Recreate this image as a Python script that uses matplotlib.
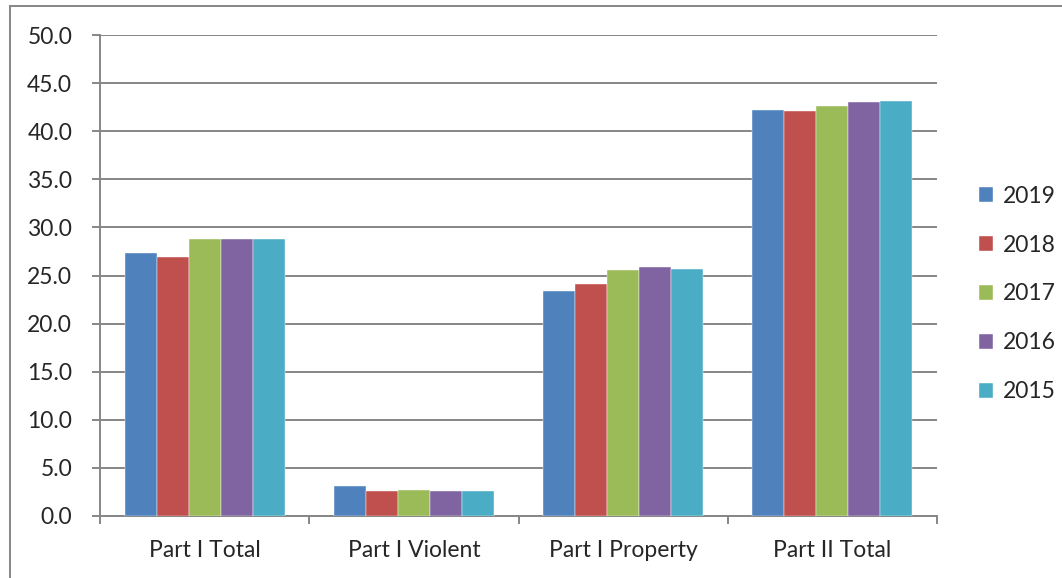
#!/usr/bin/env python3
"""Grouped bar chart of Part I / Part II rates, 2015-2019."""

import matplotlib

matplotlib.use("Agg")
import matplotlib.pyplot as plt
import numpy as np
from matplotlib.patches import Rectangle

categories = ["Part I Total", "Part I Violent", "Part I Property", "Part II Total"]
years = ["2019", "2018", "2017", "2016", "2015"]
values_2019 = [27.3, 3.1, 23.4, 42.2]
values_2018 = [26.9, 2.6, 24.1, 42.1]
values_2017 = [28.8, 2.7, 25.6, 42.6]
values_2016 = [28.8, 2.6, 25.9, 43.0]
values_2015 = [28.8, 2.6, 25.7, 43.1]
series = [values_2019, values_2018, values_2017, values_2016, values_2015]
colors = ["#4F81BD", "#C0504D", "#9BBB59", "#8064A2", "#4BACC6"]

GRID = "#868686"
TEXT = "#262626"
FS = 16.5
plt.rcParams["font.family"] = ["Lato", "DejaVu Sans"]

W, H = 1062, 578
fig = plt.figure(figsize=(W / 100, H / 100), dpi=100)

# outer chart frame (left and top edges visible)
fig.patches.append(Rectangle((10 / W, -0.05), 1.2, (H - 6) / H + 0.05,
                             transform=fig.transFigure, fill=False,
                             edgecolor=GRID, linewidth=1.4))

ax = fig.add_axes([100 / W, 1 - 516 / H, (937 - 100) / W, (516 - 35) / H])

x = np.arange(len(categories))
bar_w = 0.153
for i, (vals, col, yr) in enumerate(zip(series, colors, years)):
    offs = (i - 2) * bar_w
    ax.bar(x + offs, vals, width=bar_w, color=col, label=yr,
           edgecolor="white", linewidth=0.3, zorder=3)

ax.set_xlim(-0.5, len(categories) - 0.5)
ax.set_ylim(0, 50)
ax.set_yticks(np.arange(0, 50.1, 5))
ax.set_yticklabels([f"{v:.1f}" for v in np.arange(0, 50.1, 5)])
ax.yaxis.grid(True, color=GRID, linewidth=1.4, zorder=0)
ax.set_axisbelow(True)

ax.set_xticks(np.arange(-0.5, len(categories), 1.0))
ax.set_xticklabels([])
ax.set_xticks(x, minor=True)
ax.set_xticklabels(categories, minor=True)
ax.tick_params(axis="x", which="minor", length=0, pad=17, labelsize=FS,
               colors=TEXT)
ax.tick_params(axis="x", which="major", length=6, width=1.4, color=GRID,
               direction="out")
ax.tick_params(axis="y", length=6, width=1.4, color=GRID, direction="out",
               labelsize=FS, labelcolor=TEXT, pad=14)

for side in ("top", "right"):
    ax.spines[side].set_visible(False)
for side in ("left", "bottom"):
    ax.spines[side].set_color(GRID)
    ax.spines[side].set_linewidth(1.4)

leg = ax.legend(loc="center left", bbox_to_anchor=(979 / W, 1 - 294 / H),
                bbox_transform=fig.transFigure, frameon=False, fontsize=FS,
                handlelength=0.6, handleheight=0.6, handletextpad=0.45,
                labelspacing=1.22, borderaxespad=0, borderpad=0)
for t in leg.get_texts():
    t.set_color(TEXT)

fig.savefig("out.png", dpi=100)
